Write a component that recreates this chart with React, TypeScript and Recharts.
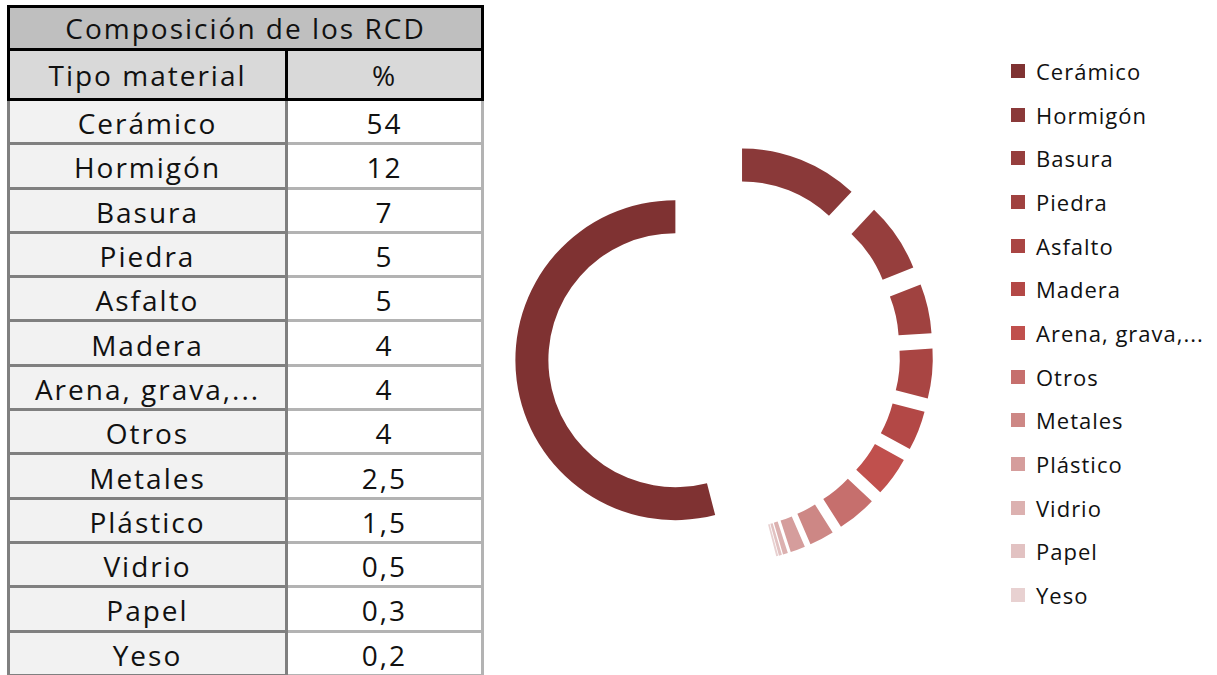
import { PieChart, Pie, Cell, Sector, Legend } from 'recharts';

const materials = ['Cerámico', 'Hormigón', 'Basura', 'Piedra', 'Asfalto', 'Madera', 'Arena, grava,...', 'Otros', 'Metales', 'Plástico', 'Vidrio', 'Papel', 'Yeso'];
const percents = [54, 12, 7, 5, 5, 4, 4, 4, 2.5, 1.5, 0.5, 0.3, 0.2];
const percentLabels = ['54', '12', '7', '5', '5', '4', '4', '4', '2,5', '1,5', '0,5', '0,3', '0,2'];
const colors = ['#7f3232', '#8a3939', '#963e3d', '#a04240', '#a94543', '#b34846', '#c0504d', '#c66f6d', '#cd8785', '#d59d9c', '#dcb1b0', '#e2c2c2', '#e8d1d1'];

const data = materials.map((name, i) => ({ name, value: percents[i] }));

const FONT = '"Open Sans", "Noto Sans", sans-serif';
const RAD = Math.PI / 180;
const EXPLODE = 49;
// angulo del primer sector (horario desde arriba), como en la hoja original
const FIRST_SLICE = 165.6;

const ROW_H = 44.3;

// sector desplazado hacia afuera segun su angulo medio
function ExplodedSector(props: any) {
  const { cx, cy, midAngle } = props;
  const dx = EXPLODE * Math.cos(-midAngle * RAD);
  const dy = EXPLODE * Math.sin(-midAngle * RAD);
  return <Sector {...props} cx={cx + dx} cy={cy + dy} />;
}

function LegendBox() {
  return (
    <div style={{ fontFamily: FONT }}>
      {materials.map((m, i) => (
        <div key={m} style={{ height: 43.7, display: 'flex', alignItems: 'center' }}>
          <div style={{ width: 14, height: 14, background: colors[i], marginRight: 11 }} />
          <span style={{ fontSize: 22, letterSpacing: 1, color: '#111' }}>{m}</span>
        </div>
      ))}
    </div>
  );
}

function Table() {
  const cellText = { fontFamily: FONT, fontSize: 28, letterSpacing: 2, color: '#111' };
  return (
    <div style={{ position: 'absolute', left: 7, top: 5, width: 477 }}>
      {/* titulo */}
      <div style={{ ...cellText, height: 46, boxSizing: 'border-box', border: '3px solid #000', background: '#bfbfbf', display: 'flex', alignItems: 'center', justifyContent: 'center' }}>
        Composición de los RCD
      </div>
      {/* cabecera */}
      <div style={{ height: 50, boxSizing: 'border-box', borderLeft: '3px solid #000', borderRight: '3px solid #000', borderBottom: '3px solid #000', display: 'flex', background: '#d9d9d9' }}>
        <div style={{ ...cellText, width: 278, boxSizing: 'border-box', borderRight: '3px solid #000', display: 'flex', alignItems: 'center', justifyContent: 'center' }}>Tipo material</div>
        <div style={{ ...cellText, flex: 1, display: 'flex', alignItems: 'center', justifyContent: 'center' }}>%</div>
      </div>
      {materials.map((m, i) => (
        <div key={m} style={{ height: ROW_H, boxSizing: 'border-box', display: 'flex', borderLeft: '3px solid #808080', borderRight: '3px solid #b3b3b3' }}>
          <div style={{ ...cellText, width: 278, boxSizing: 'border-box', paddingTop: 3, background: '#f2f2f2', borderRight: '3px solid #808080', borderBottom: '3px solid #808080', display: 'flex', alignItems: 'center', justifyContent: 'center' }}>{m}</div>
          <div style={{ ...cellText, flex: 1, boxSizing: 'border-box', paddingTop: 3, background: '#fff', borderBottom: '3px solid #b3b3b3', display: 'flex', alignItems: 'center', justifyContent: 'center' }}>{percentLabels[i]}</div>
        </div>
      ))}
    </div>
  );
}

export default function App() {
  return (
    <div style={{ position: 'absolute', left: 0, top: 0, width: 1217, height: 675, overflow: 'hidden', background: '#fff' }}>
      <Table />
      <div style={{ position: 'absolute', left: 490, top: 0 }}>
        <PieChart width={727} height={675}>
          <Pie
            data={data}
            dataKey="value"
            nameKey="name"
            cx={229}
            cy={349}
            innerRadius={127}
            outerRadius={160}
            startAngle={90 - FIRST_SLICE}
            endAngle={90 - FIRST_SLICE - 360}
            stroke="none"
            shape={ExplodedSector}
            isAnimationActive={false}
          >
            {data.map((d, i) => (
              <Cell key={d.name} fill={colors[i]} />
            ))}
          </Pie>
          <Legend content={<LegendBox />} wrapperStyle={{ position: 'absolute', left: 521, top: 49, width: 200 }} />
        </PieChart>
      </div>
    </div>
  );
}
